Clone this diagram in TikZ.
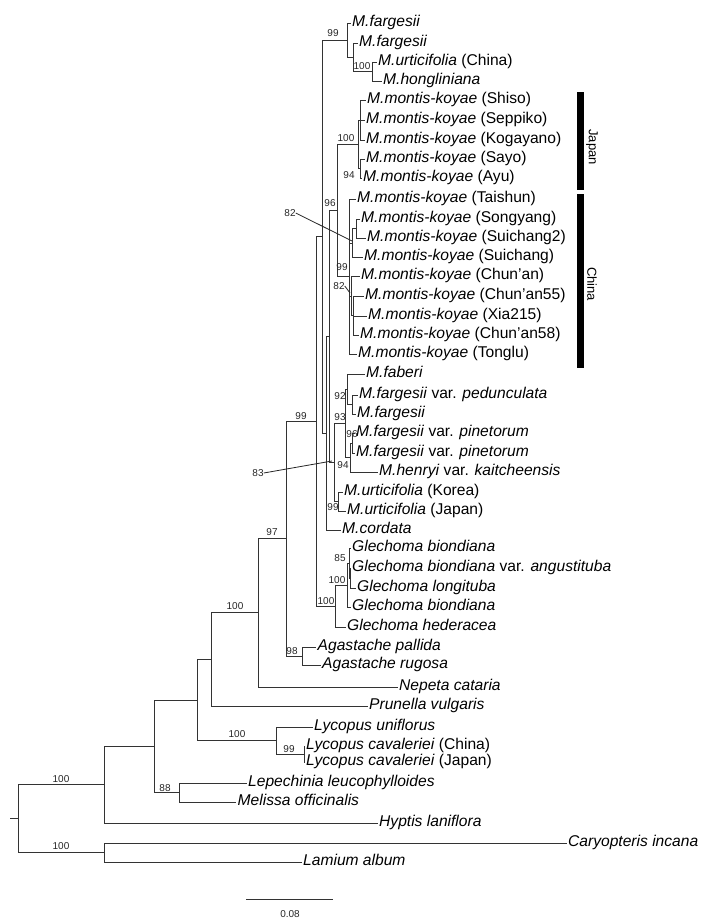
\documentclass[tikz,border=0pt]{standalone}
\usepackage{fontspec}
\setmainfont{Liberation Sans}
\begin{document}
\begin{tikzpicture}[x=1pt,y=-1pt,
  br/.style={draw=black!80,line width=0.9pt},
  leaf/.style={anchor=west,inner xsep=1.5pt,inner ysep=0pt,text height=10.5pt,text depth=3pt,font=\fontsize{15.6}{17}\selectfont},
  sup/.style={inner sep=0pt,font=\fontsize{10}{11}\selectfont,text=black!85},
  grp/.style={rotate=-90,inner sep=0pt,font=\fontsize{13}{14}\selectfont}]
\useasboundingbox (0,0) rectangle (716,923);
% leaves
\node[leaf] (l1) at (350.5,23) {\textit{M.fargesii}};
\node[leaf] (l2) at (357.5,43) {\textit{M.fargesii}};
\node[leaf] (l3) at (376.5,62) {\textit{M.urticifolia} (China)};
\node[leaf] (l4) at (381.5,81) {\textit{M.hongliniana}};
\node[leaf] (l5) at (365.5,100) {\textit{M.montis-koyae} (Shiso)};
\node[leaf] (l6) at (364.5,120) {\textit{M.montis-koyae} (Seppiko)};
\node[leaf] (l7) at (364.5,140) {\textit{M.montis-koyae} (Kogayano)};
\node[leaf] (l8) at (364.5,159) {\textit{M.montis-koyae} (Sayo)};
\node[leaf] (l9) at (361.5,178) {\textit{M.montis-koyae} (Ayu)};
\node[leaf] (l10) at (355.5,199) {\textit{M.montis-koyae} (Taishun)};
\node[leaf] (l11) at (359.5,219) {\textit{M.montis-koyae} (Songyang)};
\node[leaf] (l12) at (365.5,238) {\textit{M.montis-koyae} (Suichang2)};
\node[leaf] (l13) at (362.5,257) {\textit{M.montis-koyae} (Suichang)};
\node[leaf] (l14) at (359.5,276) {\textit{M.montis-koyae} (Chun’an)};
\node[leaf] (l15) at (363.5,296) {\textit{M.montis-koyae} (Chun’an55)};
\node[leaf] (l16) at (366.5,316) {\textit{M.montis-koyae} (Xia215)};
\node[leaf] (l17) at (358.5,335) {\textit{M.montis-koyae} (Chun’an58)};
\node[leaf] (l18) at (356.5,354) {\textit{M.montis-koyae} (Tonglu)};
\node[leaf] (l19) at (364.5,374) {\textit{M.faberi}};
\node[leaf] (l20) at (357.5,395) {\textit{M.fargesii} var. \textit{pedunculata}};
\node[leaf] (l21) at (355.5,414) {\textit{M.fargesii}};
\node[leaf] (l22) at (354.5,433) {\textit{M.fargesii} var. \textit{pinetorum}};
\node[leaf] (l23) at (354.5,453) {\textit{M.fargesii} var. \textit{pinetorum}};
\node[leaf] (l24) at (377.5,472) {\textit{M.henryi} var. \textit{kaitcheensis}};
\node[leaf] (l25) at (342.5,492) {\textit{M.urticifolia} (Korea)};
\node[leaf] (l26) at (345.5,511) {\textit{M.urticifolia} (Japan)};
\node[leaf] (l27) at (340.5,530) {\textit{M.cordata}};
\node[leaf] (l28) at (350.5,548) {\textit{Glechoma biondiana}};
\node[leaf] (l29) at (350.5,568) {\textit{Glechoma biondiana} var. \textit{angustituba}};
\node[leaf] (l30) at (355.5,588) {\textit{Glechoma longituba}};
\node[leaf] (l31) at (350.5,607) {\textit{Glechoma biondiana}};
\node[leaf] (l32) at (345.5,627) {\textit{Glechoma hederacea}};
\node[leaf] (l33) at (316,647) {\textit{Agastache pallida}};
\node[leaf] (l34) at (320.5,665) {\textit{Agastache rugosa}};
\node[leaf] (l35) at (397.5,687) {\textit{Nepeta cataria}};
\node[leaf] (l36) at (367.5,706) {\textit{Prunella vulgaris}};
\node[leaf] (l37) at (312.5,727) {\textit{Lycopus uniflorus}};
\node[leaf] (l38) at (304.5,746) {\textit{Lycopus cavaleriei} (China)};
\node[leaf] (l39) at (304.5,762) {\textit{Lycopus cavaleriei} (Japan)};
\node[leaf] (l40) at (246.5,783) {\textit{Lepechinia leucophylloides}};
\node[leaf] (l41) at (236,802) {\textit{Melissa officinalis}};
\node[leaf] (l42) at (377.5,823) {\textit{Hyptis laniflora}};
\node[leaf] (l43) at (566.5,843) {\textit{Caryopteris incana}};
\node[leaf] (l44) at (301.5,862) {\textit{Lamium album}};
% internal nodes
\coordinate (T2) at (372,71.5);
\coordinate (T1) at (353,57.25);
\coordinate (T0) at (347,40);
\coordinate (JA) at (360,120);
\coordinate (JB) at (360,168.5);
\coordinate (J0) at (358,144.25);
\coordinate (S1) at (356,228.5);
\coordinate (S0) at (352,243);
\coordinate (K1) at (353,315.5);
\coordinate (K0) at (351,296);
\coordinate (C0) at (349,276.5);
\coordinate (JC) at (337,210.4);
\coordinate (N92) at (352,404.5);
\coordinate (L3) at (347,389);
\coordinate (N96) at (352,443);
\coordinate (P) at (350,457.5);
\coordinate (N93) at (345,423);
\coordinate (U) at (338,501.5);
\coordinate (L1) at (334,462);
\coordinate (M2) at (329,336.2);
\coordinate (M1) at (326,433);
\coordinate (M0) at (322,236.5);
\coordinate (G3) at (350,578);
\coordinate (G2) at (349,563);
\coordinate (G1) at (347,585);
\coordinate (G0) at (335,606);
\coordinate (N99) at (316,421);
\coordinate (Ag) at (302,656);
\coordinate (N97) at (286,538.5);
\coordinate (F) at (258,612.75);
\coordinate (E) at (211,659.4);
\coordinate (Ly9) at (304,754);
\coordinate (Ly) at (276,740.5);
\coordinate (D) at (197,700);
\coordinate (N88) at (179,792.5);
\coordinate (C) at (154,746);
\coordinate (B) at (104,784.5);
\coordinate (O) at (104,852.5);
\coordinate (R) at (18,818.5);
\coordinate (R0) at (10,818.5);
% branches
\draw[br] (R0) -- (R);
\draw[br] (R) |- (B); \draw[br] (R) |- (O);
\draw[br] (O) |- (l43.west); \draw[br] (O) |- (l44.west);
\draw[br] (B) |- (C); \draw[br] (B) |- (l42.west);
\draw[br] (C) |- (D); \draw[br] (C) |- (N88);
\draw[br] (N88) |- (l40.west); \draw[br] (N88) |- (l41.west);
\draw[br] (D) |- (E); \draw[br] (D) |- (Ly);
\draw[br] (Ly) |- (l37.west); \draw[br] (Ly) |- (Ly9);
\draw[br] (Ly9) |- (l38.west); \draw[br] (Ly9) |- (l39.west);
\draw[br] (E) |- (F); \draw[br] (E) |- (l36.west);
\draw[br] (F) |- (N97); \draw[br] (F) |- (l35.west);
\draw[br] (N97) |- (N99); \draw[br] (N97) |- (Ag);
\draw[br] (Ag) |- (l33.west); \draw[br] (Ag) |- (l34.west);
\draw[br] (N99) |- (M0); \draw[br] (N99) |- (G0);
\draw[br] (G0) |- (G1); \draw[br] (G0) |- (l32.west);
\draw[br] (G1) |- (G2); \draw[br] (G1) |- (l31.west);
\draw[br] (G2) |- (l28.west); \draw[br] (G2) |- (G3);
\draw[br] (G3) |- (l29.west); \draw[br] (G3) |- (l30.west);
\draw[br] (M0) |- (T0); \draw[br] (M0) |- (M1);
\draw[br] (T0) |- (l1.west); \draw[br] (T0) |- (T1);
\draw[br] (T1) |- (l2.west); \draw[br] (T1) |- (T2);
\draw[br] (T2) |- (l3.west); \draw[br] (T2) |- (l4.west);
\draw[br] (M1) |- (M2); \draw[br] (M1) |- (l27.west);
\draw[br] (M2) |- (JC); \draw[br] (M2) |- (L1);
\draw[br] (JC) |- (J0); \draw[br] (JC) |- (C0);
\draw[br] (J0) |- (JA); \draw[br] (J0) |- (JB);
\draw[br] (JA) |- (l5.west); \draw[br] (JA) |- (l6.west); \draw[br] (JA) |- (l7.west);
\draw[br] (JB) |- (l8.west); \draw[br] (JB) |- (l9.west);
\draw[br] (C0) |- (l10.west); \draw[br] (C0) |- (S0); \draw[br] (C0) |- (K0); \draw[br] (C0) |- (l18.west);
\draw[br] (S0) |- (S1); \draw[br] (S0) |- (l13.west);
\draw[br] (S1) |- (l11.west); \draw[br] (S1) |- (l12.west);
\draw[br] (K0) |- (l14.west); \draw[br] (K0) |- (K1);
\draw[br] (K1) |- (l15.west); \draw[br] (K1) |- (l16.west); \draw[br] (K1) |- (l17.west);
\draw[br] (L1) |- (N93); \draw[br] (L1) |- (U);
\draw[br] (N93) |- (L3); \draw[br] (N93) |- (P);
\draw[br] (L3) |- (l19.west); \draw[br] (L3) |- (N92);
\draw[br] (N92) |- (l20.west); \draw[br] (N92) |- (l21.west);
\draw[br] (P) |- (N96); \draw[br] (P) |- (l24.west);
\draw[br] (N96) |- (l22.west); \draw[br] (N96) |- (l23.west);
\draw[br] (U) |- (l25.west); \draw[br] (U) |- (l26.west);
% support values
\node[sup] (s1) at (333,33) {99};
\node[sup] (s2) at (362,66) {100};
\node[sup] (s3) at (346,138) {100};
\node[sup] (s4) at (349,175) {94};
\node[sup] (s5) at (330,203) {96};
\node[sup] (s6) at (342,267) {99};
\node[sup] (s7) at (340,396) {92};
\node[sup] (s8) at (301,416) {99};
\node[sup] (s9) at (340,417) {93};
\node[sup] (s10) at (352,434) {96};
\node[sup] (s11) at (343,465) {94};
\node[sup] (s12) at (333,507) {99};
\node[sup] (s13) at (272,532) {97};
\node[sup] (s14) at (340,558) {85};
\node[sup] (s15) at (337,580) {100};
\node[sup] (s16) at (326,601) {100};
\node[sup] (s17) at (235,606) {100};
\node[sup] (s18) at (292,651) {98};
\node[sup] (s19) at (61,779) {100};
\node[sup] (s20) at (61,846) {100};
\node[sup] (s21) at (237,734) {100};
\node[sup] (s22) at (289,749) {99};
\node[sup] (s23) at (165,788) {88};
\node[sup] (s24) at (290,213) {82};
\node[sup] (s25) at (339,286) {82};
\node[sup] (s26) at (258,473) {83};
\coordinate (e24) at (352,241);
\coordinate (e25) at (350,293);
\coordinate (e26) at (332,461);
\draw[black!85,line width=0.8pt] (s24.east) -- (e24);
\draw[black!85,line width=0.8pt] (s25.east) -- (e25);
\draw[black!85,line width=0.8pt] (s26.east) -- (e26);
% group bars
\fill (577,92) rectangle (584,190);
\fill (577,194) rectangle (584,368);
\node[grp] (jp) at (592,147) {Japan};
\node[grp] (cn) at (592,284) {China};
% scale bar
\coordinate (sb1) at (246,899);
\coordinate (sb2) at (333,899);
\draw[br] (sb1) -- (sb2);
\node[sup] (sbl) at (290,914) {0.08};
\end{tikzpicture}
\end{document}
